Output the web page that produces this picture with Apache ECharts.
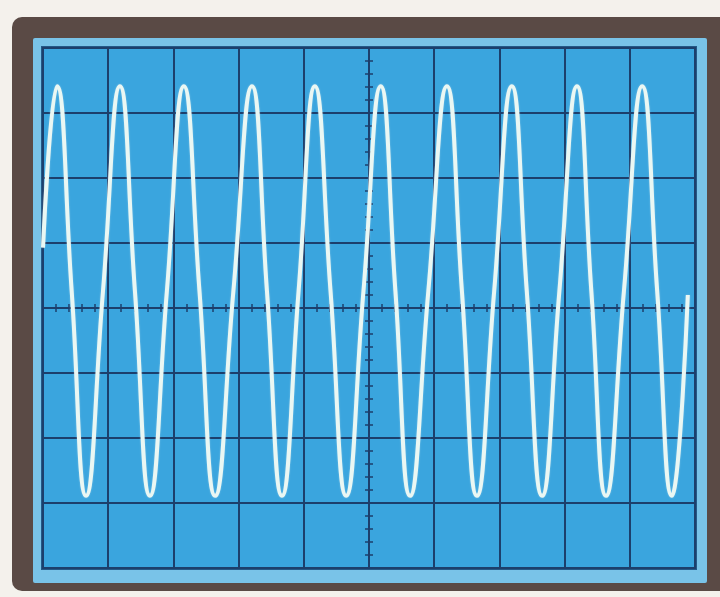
<!DOCTYPE html>
<html>
<head>
<meta charset="utf-8">
<script src="https://cdn.jsdelivr.net/npm/echarts@6/dist/echarts.min.js"></script>
<style>
html,body{margin:0;padding:0;background:#f4f1ec;}
#c{width:720px;height:597px;}
</style>
</head>
<body>
<div id="c"></div>
<script>
// Trace samples (divisions, centre of screen = 0,0): start, then peak / crossing / trough / crossing per cycle
var traceX = [-5.0,
  -4.785, -4.56, -4.34, -4.08,
  -3.82, -3.59, -3.36, -3.10,
  -2.84, -2.60, -2.36, -2.08,
  -1.795, -1.565, -1.335, -1.08,
  -0.83, -0.59, -0.35, -0.085,
  0.18, 0.405, 0.63, 0.91,
  1.195, 1.425, 1.655, 1.92,
  2.19, 2.42, 2.655, 2.92,
  3.19, 3.41, 3.635, 3.91,
  4.19, 4.42, 4.645, 4.89];
var traceY = [0.93,
  3.41, 0.26, -2.89, 0.26,
  3.41, 0.26, -2.89, 0.26,
  3.41, 0.26, -2.89, 0.26,
  3.41, 0.26, -2.89, 0.26,
  3.41, 0.26, -2.89, 0.26,
  3.41, 0.26, -2.89, 0.26,
  3.41, 0.26, -2.89, 0.26,
  3.41, 0.26, -2.89, 0.26,
  3.41, 0.26, -2.89, 0.26,
  3.41, 0.26, -2.89, 0.2];
var xRange = [-5, 5];
var yRange = [-4, 4];

var gridColor = '#1c3f6c';
var data = traceX.map(function (x, i) { return [x, traceY[i]]; });

var chart = echarts.init(document.getElementById('c'), null, {renderer: 'canvas'});

function axisBase(min, max) {
  return {
    type: 'value', min: min, max: max, interval: 1,
    axisLabel: {show: false},
    axisLine: {show: true, onZero: true, lineStyle: {color: gridColor, width: 2}},
    axisTick: {show: true, length: 4, lineStyle: {color: gridColor, width: 1.5}},
    minorTick: {show: true, splitNumber: 5, length: 4, lineStyle: {color: gridColor, width: 1.5}},
    splitLine: {show: true, lineStyle: {color: gridColor, width: 2}},
    minorSplitLine: {show: false}
  };
}

var xa0 = axisBase(xRange[0], xRange[1]); xa0.position = 'bottom';
var xa1 = axisBase(xRange[0], xRange[1]); xa1.position = 'top'; xa1.splitLine = {show: false};
var ya0 = axisBase(yRange[0], yRange[1]); ya0.position = 'left';
var ya1 = axisBase(yRange[0], yRange[1]); ya1.position = 'right'; ya1.splitLine = {show: false};
ya0.axisLine.onZeroAxisIndex = 0; ya1.axisLine.onZeroAxisIndex = 0;
xa0.axisLine.onZeroAxisIndex = 0; xa1.axisLine.onZeroAxisIndex = 0;

chart.setOption({
  animation: false,
  backgroundColor: '#f4f1ec',
  graphic: [
    {type: 'rect', z: -30, shape: {x: 12, y: 17, width: 740, height: 574, r: 10},
     style: {fill: '#5a4a45'}},
    {type: 'rect', z: -20, shape: {x: 33, y: 38, width: 674, height: 545, r: 2},
     style: {fill: '#79c3e8'}},
    {type: 'rect', z: -10, shape: {x: 41, y: 46, width: 656, height: 524},
     style: {fill: '#235987'}}
  ],
  grid: {left: 43, top: 48, width: 652, height: 520, show: true,
         backgroundColor: '#3aa5de', borderColor: gridColor, borderWidth: 2},
  xAxis: [xa0, xa1],
  yAxis: [ya0, ya1],
  series: [{
    type: 'line', xAxisIndex: 0, yAxisIndex: 0,
    data: data, smooth: 0.5, showSymbol: false, symbol: 'none',
    clip: true, z: 5,
    lineStyle: {color: '#eaf7f3', width: 4, shadowColor: 'rgba(255,255,255,0.35)', shadowBlur: 2}
  }]
});
</script>
</body>
</html>
